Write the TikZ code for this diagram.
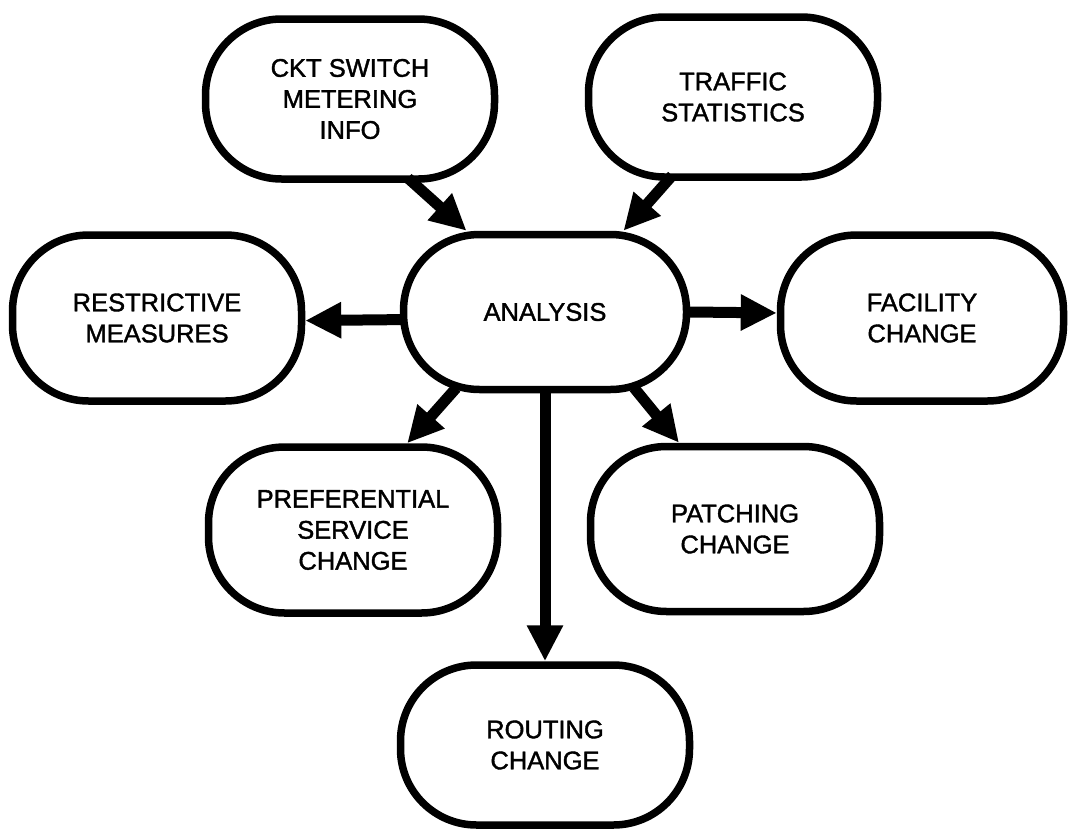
\documentclass[tikz,border=0pt]{standalone}
\usepackage{fontspec}
\setmainfont{Liberation Sans}[FakeBold=1.5]
\usetikzlibrary{arrows.meta}

\begin{document}
\begin{tikzpicture}[x=1pt,y=-1pt,
    blob/.style={draw,line width=7.5pt,rounded corners=76pt,align=center,
      font=\fontsize{25.5}{31}\selectfont,inner sep=0pt,
      minimum width=289pt,minimum height=160pt},
    flow/.style={line width=11pt,shorten <=-7pt,-{Triangle[length=36pt,width=34pt]}}]
    \useasboundingbox (0,0) rectangle (1069,830);
    \node[blob] (ckt) at (350,99) {CKT SWITCH\\METERING\\INFO};
    \node[blob] (traf) at (733,97) {TRAFFIC\\STATISTICS};
    \node[blob,minimum width=283pt,minimum height=155pt] (ana) at (545,312) {ANALYSIS};
    \node[blob,minimum height=166pt] (rest) at (157,318) {RESTRICTIVE\\MEASURES};
    \node[blob,minimum width=283pt,minimum height=166pt] (fac) at (922,318) {FACILITY\\CHANGE};
    \node[blob,minimum height=166pt] (pref) at (353,530) {PREFERENTIAL\\SERVICE\\CHANGE};
    \node[blob,minimum height=165pt] (patch) at (735,529) {PATCHING\\CHANGE};
    \node[blob] (rout) at (545,745) {ROUTING\\CHANGE};
    % inputs
    \draw[flow] (ckt.-53) -- (ana.134);
    \draw[flow] (traf.-128) -- (ana.46);
    % outputs
    \draw[flow] (ana.183) -- (rest.-1);
    \draw[flow] (ana.east) -- (fac.178);
    \draw[flow] (ana.-139) -- (pref.58);
    \draw[flow] (ana.-41) -- (patch.123);
    \draw[flow] (ana.south) -- (rout.north);
\end{tikzpicture}
\end{document}
